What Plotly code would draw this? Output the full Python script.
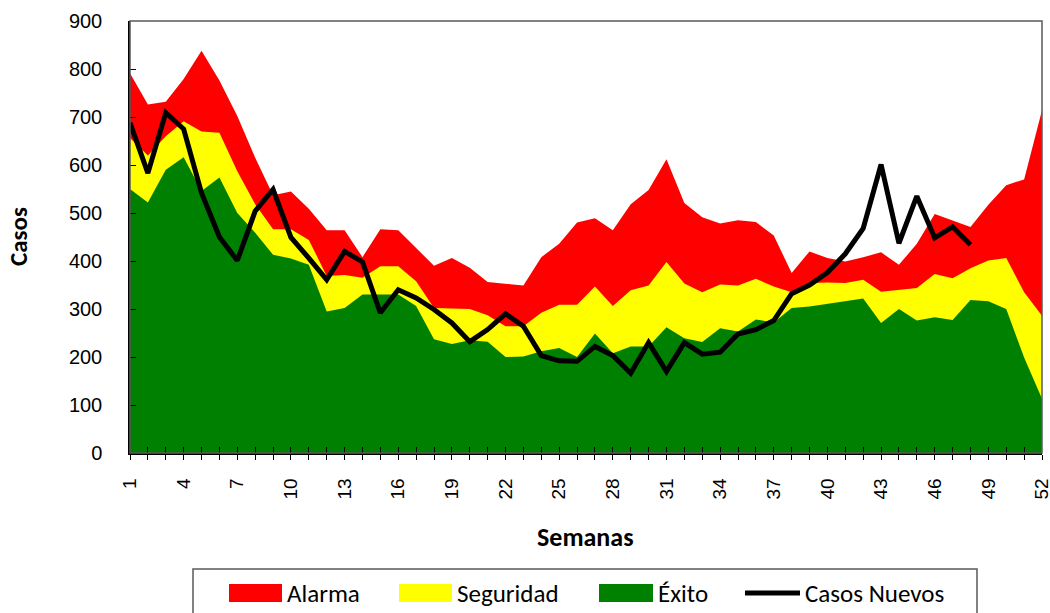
import plotly.graph_objects as go

semanas = list(range(1, 53))

alarma = [791, 726, 732, 779, 838, 776, 702, 615, 537, 545, 509, 464, 464, 408, 466, 464,
          427, 390, 406, 386, 356, 352, 349, 408, 436, 480, 489, 464, 518, 548, 612, 521,
          491, 478, 485, 481, 453, 375, 420, 406, 399, 408, 418, 392, 436, 498, 484, 471,
          517, 558, 570, 714]

seguridad = [656, 620, 660, 691, 670, 667, 587, 518, 466, 466, 444, 369, 371, 365, 389, 389,
             358, 302, 301, 300, 287, 264, 264, 292, 309, 309, 347, 306, 339, 349, 398, 353,
             335, 351, 349, 363, 347, 335, 354, 355, 354, 361, 336, 340, 344, 373, 364, 385,
             401, 406, 335, 286]

exito = [550, 522, 590, 616, 546, 574, 500, 459, 413, 405, 392, 295, 302, 330, 330, 330,
         306, 237, 227, 235, 232, 200, 201, 212, 219, 200, 249, 208, 222, 222, 262, 239,
         231, 260, 253, 278, 272, 302, 305, 311, 316, 322, 271, 300, 276, 283, 277, 319,
         316, 300, 199, 113]

semanas_casos = list(range(1, 49))
casos_nuevos = [688, 583, 709, 675, 542, 450, 401, 504, 549, 449, 406, 361, 420, 398, 292, 340,
                323, 299, 271, 232, 257, 290, 264, 203, 192, 191, 222, 203, 166, 230, 170, 230,
                206, 210, 248, 257, 276, 332, 350, 376, 415, 468, 601, 437, 535, 448, 471, 434]

tick_labels = [str(w) if (w - 1) % 3 == 0 else "" for w in semanas]
y_ticks = list(range(0, 1000, 100))

RED, YELLOW, GREEN, BLACK = "#FF0000", "#FFFF00", "#008000", "#000000"
CAL = "Carlito, Liberation Sans Narrow, Open Sans, sans-serif"
ARIAL = "Liberation Sans, Arial, sans-serif"

fig = go.Figure()
for name, vals, col in [("Alarma", alarma, RED), ("Seguridad", seguridad, YELLOW), ("Éxito", exito, GREEN)]:
    fig.add_trace(go.Scatter(x=semanas, y=vals, name=name, mode="lines", fill="tozeroy",
                             fillcolor=col, line=dict(width=0, color=col), showlegend=False))
fig.add_trace(go.Scatter(x=semanas_casos, y=casos_nuevos, name="Casos Nuevos", mode="lines",
                         line=dict(color=BLACK, width=5), showlegend=False))
# invisible trace to host the overlay axis for crossing ticks
fig.add_trace(go.Scatter(x=[semanas[0]], y=[0], xaxis="x2", mode="markers",
                         marker=dict(opacity=0), showlegend=False, hoverinfo="skip"))

W, H = 1050, 613
L, R, T, B = 130, 8, 21, 160
pw, ph = W - L - R, H - T - B

def px_x(x):
    return (x - L) / pw

def px_y(y):
    return (H - B - y) / ph

fig.update_layout(
    width=W, height=H, plot_bgcolor="white", paper_bgcolor="white",
    margin=dict(l=L, r=R, t=T, b=B, autoexpand=False),
    showlegend=False,
    xaxis=dict(range=[1, 52], tickmode="array", tickvals=semanas, ticktext=tick_labels,
               tickangle=-90, ticks="outside", ticklen=5, tickcolor="#000", tickwidth=1,
               showline=True, linecolor="#000", linewidth=1.5, showgrid=False, zeroline=False,
               tickfont=dict(family=ARIAL, size=19, color="#000"), layer="above traces",
               ticklabeloverflow="allow", ticklabelstandoff=11),
    xaxis2=dict(range=[1, 52], overlaying="x", side="bottom", anchor="y", tickmode="array",
                tickvals=semanas, ticks="inside", ticklen=6, tickcolor="#000", tickwidth=1,
                showticklabels=False, showgrid=False, zeroline=False, showline=False,
                layer="above traces"),
    yaxis=dict(range=[0, 900], tickmode="array", tickvals=y_ticks, ticks="inside", ticklen=6,
               tickcolor="#000", showline=True, linecolor="#000", linewidth=1.5, showgrid=False,
               zeroline=False, tickfont=dict(family=ARIAL, size=20, color="#000"),
               ticklabelstandoff=22, layer="above traces"),
)

# plot-area border (top/right)
fig.add_shape(type="rect", xref="paper", yref="paper", x0=0, x1=1, y0=0, y1=1,
              line=dict(color="#5a5a5a", width=1.5), fillcolor="rgba(0,0,0,0)", layer="above")

# axis titles
fig.add_annotation(text="<b>Casos</b>", xref="paper", yref="paper", x=px_x(18), y=0.5,
                   textangle=-90, showarrow=False, font=dict(family=CAL, size=25, color="#000"),
                   xanchor="center", yanchor="middle")
fig.add_annotation(text="<b>Semanas</b>", xref="paper", yref="paper", x=px_x(585), y=px_y(537),
                   showarrow=False, font=dict(family=CAL, size=26, color="#000"),
                   xanchor="center", yanchor="middle")

# legend (drawn manually to match swatch sizes)
fig.add_shape(type="rect", xref="paper", yref="paper", x0=px_x(193), x1=px_x(977),
              y0=px_y(616), y1=px_y(569), line=dict(color="#5a5a5a", width=1.5),
              fillcolor="white", layer="above")
legend_items = [("Alarma", RED, 229, 282, "box"), ("Seguridad", YELLOW, 399, 452, "box"),
                ("Éxito", GREEN, 599, 653, "box"), ("Casos Nuevos", BLACK, 745, 800, "line")]
ly = 593
for name, col, x0, x1, kind in legend_items:
    if kind == "box":
        fig.add_shape(type="rect", xref="paper", yref="paper", x0=px_x(x0), x1=px_x(x1),
                      y0=px_y(ly + 9), y1=px_y(ly - 9), line=dict(width=0), fillcolor=col,
                      layer="above")
    else:
        fig.add_shape(type="line", xref="paper", yref="paper", x0=px_x(x0), x1=px_x(x1),
                      y0=px_y(ly), y1=px_y(ly), line=dict(color=col, width=5), layer="above")
    fig.add_annotation(text=name, xref="paper", yref="paper", x=px_x(x1 + 3), y=px_y(ly),
                       xanchor="left", yanchor="middle", showarrow=False,
                       font=dict(family=CAL, size=25, color="#000"))

fig.write_html("out.html", config={"displayModeBar": False},
               post_script="document.body.style.margin='0';")
